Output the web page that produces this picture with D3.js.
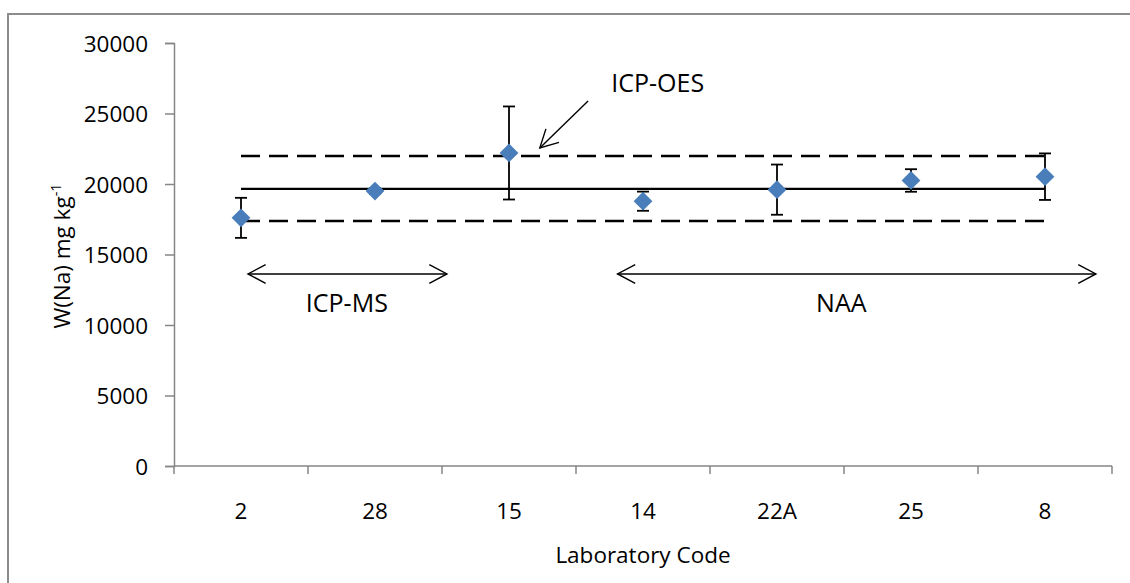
<!DOCTYPE html>
<html>
<head>
<meta charset="utf-8">
<script src="https://cdn.jsdelivr.net/npm/d3@7"></script>
<style>
  html, body { margin: 0; padding: 0; background: #fff; }
  svg { display: block; }
  text { font-family: "Open Sans", "Liberation Sans", sans-serif; fill: #000; }
</style>
</head>
<body>
<svg id="chart" width="1130" height="583"></svg>
<script>
// Laboratory codes and their reported sodium mass fractions (mg/kg)
const labCodes = ["2", "28", "15", "14", "22A", "25", "8"];
const naValues = [17600, 19500, 22200, 18780, 19600, 20250, 20520];
const naUncertainty = [1420, 200, 3300, 680, 1780, 800, 1650];

// Consensus value and its acceptance limits
const consensusValue = 19650;
const limitValues = [17370, 21980];

// Y axis ticks
const yTicks = [0, 5000, 10000, 15000, 20000, 25000, 30000];

const svg = d3.select("#chart");
const W = 1130, H = 583;
const plot = { left: 174, right: 1112, top: 43, bottom: 466 };
const axisColor = "#868686";
const markerColor = "#4a7ebb";

// outer frame
svg.append("rect")
  .attr("x", 8).attr("y", 14)
  .attr("width", W + 20).attr("height", H + 20)
  .attr("fill", "none").attr("stroke", "#8c8c8c").attr("stroke-width", 2);

const x = d3.scaleBand().domain(labCodes).range([plot.left, plot.right]).paddingInner(0).paddingOuter(0);
const y = d3.scaleLinear().domain([0, 30000]).range([plot.bottom, plot.top]);
// fractional category position (0 = centre of first code)
const xi = d3.scaleLinear().domain([0, 1]).range([x(labCodes[0]) + x.bandwidth() / 2, x(labCodes[1]) + x.bandwidth() / 2]);
const cx = d => x(d) + x.bandwidth() / 2;

// y axis
const yAxis = svg.append("g")
  .attr("transform", `translate(${plot.left},0)`)
  .call(d3.axisLeft(y).tickValues(yTicks).tickSize(9).tickPadding(17).tickFormat(d3.format("d")));
yAxis.select(".domain").attr("stroke", axisColor).attr("stroke-width", 1.5);
yAxis.selectAll(".tick line").attr("stroke", axisColor).attr("stroke-width", 1.5);
yAxis.selectAll(".tick text").attr("font-size", 22.5).attr("font-family", null).attr("dy", "0.36em");

// x axis: ticks sit on category boundaries
const xg = svg.append("g").attr("transform", `translate(0,${plot.bottom})`);
xg.append("line")
  .attr("x1", plot.left).attr("x2", plot.right)
  .attr("stroke", axisColor).attr("stroke-width", 1.5);
const bounds = labCodes.map(d => x(d)).concat([plot.right]);
xg.selectAll("line.tk").data(bounds).join("line")
  .attr("class", "tk")
  .attr("x1", d => d).attr("x2", d => d)
  .attr("y1", 0).attr("y2", 8)
  .attr("stroke", axisColor).attr("stroke-width", 1.5);
xg.selectAll("text").data(labCodes).join("text")
  .attr("x", d => cx(d)).attr("y", 45).attr("dy", "0.36em")
  .attr("text-anchor", "middle").attr("font-size", 22.5)
  .text(d => d);

// axis titles
svg.append("text")
  .attr("x", (plot.left + plot.right) / 2 + 0).attr("y", 555).attr("dy", "0.36em")
  .attr("text-anchor", "middle").attr("font-size", 22.5)
  .text("Laboratory Code");

const yt = svg.append("text")
  .attr("transform", `translate(70,256) rotate(-90)`)
  .attr("text-anchor", "middle").attr("font-size", 22.5);
yt.append("tspan").text("W(Na) mg kg");
yt.append("tspan").attr("font-size", 14.5).attr("dy", -9).text("-1");

// consensus and limit lines
const xStart = cx(labCodes[0]), xEnd = cx(labCodes[labCodes.length - 1]);
svg.append("line")
  .attr("x1", xStart).attr("x2", xEnd)
  .attr("y1", y(consensusValue)).attr("y2", y(consensusValue))
  .attr("stroke", "#000").attr("stroke-width", 2.3);
svg.selectAll("line.limit").data(limitValues).join("line")
  .attr("class", "limit")
  .attr("x1", xStart).attr("x2", xEnd)
  .attr("y1", d => y(d)).attr("y2", d => y(d))
  .attr("stroke", "#000").attr("stroke-width", 2.5)
  .attr("stroke-dasharray", "19,9");

// error bars
const pts = labCodes.map((c, i) => ({ code: c, v: naValues[i], u: naUncertainty[i] }));
const eb = svg.append("g").attr("stroke", "#000").attr("stroke-width", 1.8);
eb.selectAll("line.v").data(pts).join("line")
  .attr("x1", d => cx(d.code)).attr("x2", d => cx(d.code))
  .attr("y1", d => y(d.v + d.u)).attr("y2", d => y(d.v - d.u));
eb.selectAll("line.cap").data(pts.flatMap(d => [d.v + d.u, d.v - d.u].map(v => ({ code: d.code, v }))))
  .join("line")
  .attr("x1", d => cx(d.code) - 6).attr("x2", d => cx(d.code) + 6)
  .attr("y1", d => y(d.v)).attr("y2", d => y(d.v));

// diamond markers
svg.selectAll("path.pt").data(pts).join("path")
  .attr("class", "pt")
  .attr("d", d3.symbol().type(d3.symbolDiamond2).size(225)())
  .attr("transform", d => `translate(${cx(d.code)},${y(d.v)})`)
  .attr("fill", markerColor);

// annotation arrows with open heads
function arrowHead(g, tip, from, len = 20, ang = 28) {
  const a = Math.atan2(from[1] - tip[1], from[0] - tip[0]);
  const r = ang * Math.PI / 180;
  const p1 = [tip[0] + len * Math.cos(a + r), tip[1] + len * Math.sin(a + r)];
  const p2 = [tip[0] + len * Math.cos(a - r), tip[1] + len * Math.sin(a - r)];
  g.append("path")
    .attr("d", `M${p1}L${tip}L${p2}`)
    .attr("fill", "none").attr("stroke", "#000").attr("stroke-width", 1.4);
}
function arrow(from, to, both) {
  const g = svg.append("g");
  g.append("line")
    .attr("x1", from[0]).attr("y1", from[1]).attr("x2", to[0]).attr("y2", to[1])
    .attr("stroke", "#000").attr("stroke-width", 1.4);
  arrowHead(g, to, from);
  if (both) arrowHead(g, from, to);
}

const methodSpans = [
  { label: "ICP-MS", from: 0.052, to: 1.537, at: 13620, textAt: 0.79, textY: 11560 },
  { label: "NAA", from: 2.81, to: 6.38, at: 13620, textAt: 4.48, textY: 11560 }
];
methodSpans.forEach(s => {
  arrow([xi(s.from), y(s.at)], [xi(s.to), y(s.at)], true);
  svg.append("text")
    .attr("x", xi(s.textAt)).attr("y", y(s.textY)).attr("dy", "0.36em")
    .attr("text-anchor", "middle").attr("font-size", 25)
    .text(s.label);
});

// ICP-OES callout
arrow([xi(2.59), y(25890)], [xi(2.23), y(22560)], false);
svg.append("text")
  .attr("x", xi(3.11)).attr("y", y(27160)).attr("dy", "0.36em")
  .attr("text-anchor", "middle").attr("font-size", 25)
  .text("ICP-OES");
</script>
</body>
</html>
